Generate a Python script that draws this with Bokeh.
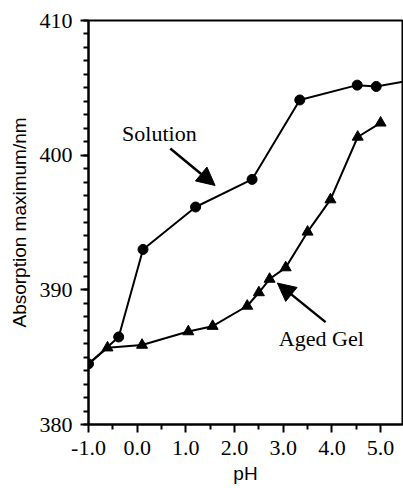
from bokeh.plotting import figure
from bokeh.models import (FixedTicker, PrintfTickFormatter, Range1d, Arrow,
                          NormalHead, Label)
from bokeh.embed import file_html
from bokeh.resources import INLINE

# Absorption maximum vs pH
solution_ph = [-1.0, -0.38, 0.12, 1.2, 2.36, 3.34, 4.52, 4.91, 6.0]
solution_nm = [384.5, 386.5, 393.0, 396.15, 398.2, 404.1, 405.2, 405.1, 405.8]

gel_ph = [-1.0, -0.61, 0.10, 1.05, 1.55, 2.26, 2.50, 2.72, 3.05, 3.50, 3.97, 4.53, 5.0]
gel_nm = [384.5, 385.7, 385.9, 386.9, 387.3, 388.8, 389.8, 390.8, 391.65, 394.3, 396.7, 401.35, 402.4]

x_ticks = [-1.0, 0.0, 1.0, 2.0, 3.0, 4.0, 5.0]
y_ticks = [380, 390, 400, 410]

SERIF = "Liberation Serif"
SANS = "Liberation Sans"

p = figure(width=403, height=488, output_backend="svg", toolbar_location=None,
           x_range=Range1d(-1.0, 5.45), y_range=Range1d(380, 410),
           min_border_left=88, min_border_right=1, min_border_top=20,
           min_border_bottom=64)
p.grid.visible = False
p.outline_line_color = "black"
p.outline_line_width = 2
p.background_fill_color = "white"
p.border_fill_color = "white"

p.xaxis.ticker = FixedTicker(ticks=x_ticks,
                             minor_ticks=[v + 0.5 for v in x_ticks[:-1]])
p.xaxis.formatter = PrintfTickFormatter(format="%.1f")
p.yaxis.ticker = FixedTicker(ticks=y_ticks, minor_ticks=list(range(380, 411)))

for ax in (p.xaxis, p.yaxis):
    ax.axis_line_width = 2
    ax.axis_line_color = "black"
    ax.major_tick_line_width = 2
    ax.minor_tick_line_width = 2
    ax.major_tick_out = 8
    ax.major_tick_in = 0
    ax.minor_tick_out = 5
    ax.minor_tick_in = 0
    ax.major_label_text_font = SERIF
    ax.major_label_text_font_size = "22px"
    ax.major_label_text_color = "black"
    ax.axis_label_text_font = SANS
    ax.axis_label_text_font_size = "19px"
    ax.axis_label_text_font_style = "normal"
    ax.axis_label_text_color = "black"

p.xaxis.axis_label = "pH"
p.yaxis.axis_label = "Absorption maximum/nm"
p.xaxis.major_label_standoff = 8
p.yaxis.major_label_standoff = 8
p.xaxis.axis_label_standoff = 5
p.yaxis.axis_label_standoff = 7

# Solution: circles
p.line(solution_ph, solution_nm, line_color="black", line_width=2)
p.scatter(solution_ph, solution_nm, marker="circle", size=10,
          fill_color="black", line_color="black")

# Aged gel: triangles (the series starts from the shared first point)
p.line(gel_ph, gel_nm, line_color="black", line_width=2)
p.scatter(gel_ph[1:], gel_nm[1:], marker="triangle", size=11,
          fill_color="black", line_color="black")

# Callouts
p.add_layout(Label(x=-0.31, y=401.6, text="Solution", text_font=SERIF,
                   text_font_size="22px", text_color="black",
                   text_baseline="middle"))
p.add_layout(Label(x=2.91, y=386.4, text="Aged Gel", text_font=SERIF,
                   text_font_size="22px", text_color="black",
                   text_baseline="middle"))

p.add_layout(Arrow(x_start=0.68, y_start=400.5, x_end=1.60, y_end=397.75,
                   line_width=2.5, line_color="black",
                   end=NormalHead(size=18, fill_color="black",
                                  line_color="black")))
p.add_layout(Arrow(x_start=3.87, y_start=387.6, x_end=2.88, y_end=390.5,
                   line_width=2.5, line_color="black",
                   end=NormalHead(size=18, fill_color="black",
                                  line_color="black")))

open("out.html", "w").write(file_html(p, INLINE))
